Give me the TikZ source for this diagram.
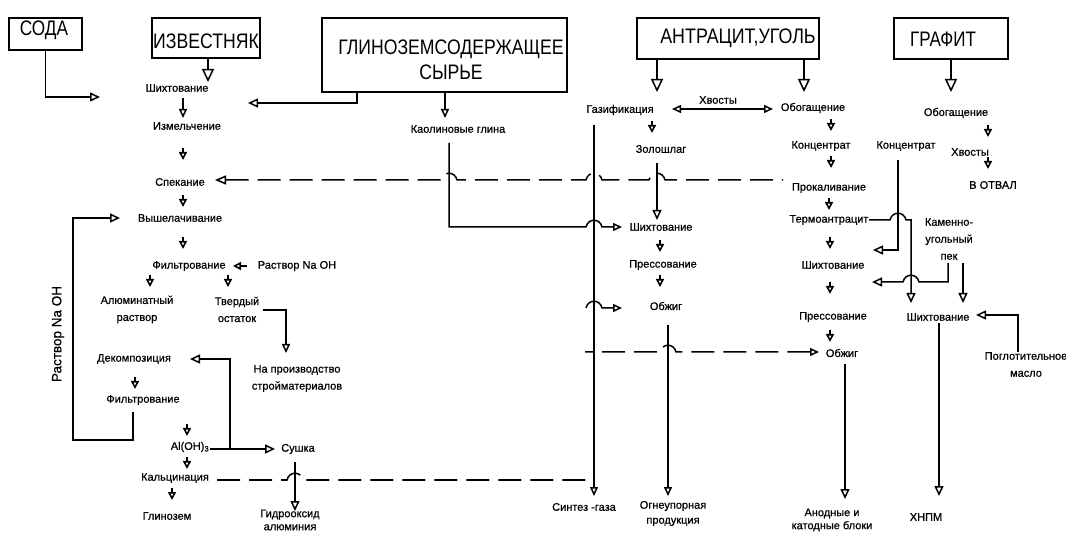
\documentclass[tikz,border=0pt]{standalone}
\usepackage{fontspec}
\setmainfont{Liberation Sans}
\newfontfamily\lblfont{Liberation Sans}[FakeBold=0.6]
\usetikzlibrary{arrows.meta}
\tikzset{
  lbl/.style={font=\lblfont\fontsize{11}{17}\selectfont, inner sep=0pt, align=center},
  ttl/.style={font=\fontsize{21}{25}\selectfont, inner sep=0pt, align=center},
  box/.style={draw, line width=2.4pt, inner sep=0pt},
  ln/.style={line width=1.5pt},
  dl/.style={line width=1.5pt, dash pattern=on 23pt off 9pt},
  barw/.style={-{Triangle[open,width=12pt,length=13pt]}},
  marw/.style={-{Triangle[open,width=9pt,length=10pt]}},
  sarw/.style={-{Triangle[open,width=8pt,length=9pt]}},
  dbarw/.style={{Triangle[open,width=8pt,length=9pt]}-{Triangle[open,width=8pt,length=9pt]}},
  tk/.style={line width=1.6pt,-{Triangle[open,width=8pt,length=8pt]}},
}
\newcommand\dnarrow[2]{\draw[tk] (#1,#2-7) -- (#1,#2+5);}
\begin{document}
\begin{tikzpicture}[x=1pt,y=-1pt]
\useasboundingbox (0,0) rectangle (1066,534);
\clip (0,0) rectangle (1066,534);
\fill[white] (0,0) rectangle (1066,534);

% boxes
\node[box, minimum width=73pt, minimum height=32pt] (sodabox) at (45.5,34) {};
\node[ttl] (soda) at (44,30) {\scalebox{0.82}[1]{СОДА}};
\node[box, minimum width=108pt, minimum height=40pt] (izvbox) at (206,38) {};
\node[ttl] (izv) at (206,41) {\scalebox{0.84}[1]{ИЗВЕСТНЯК}};
\node[box, minimum width=245pt, minimum height=74pt] (glinbox) at (444.5,55) {};
\node[ttl] (glin) at (451,59.5) {\scalebox{0.84}[1]{ГЛИНОЗЕМСОДЕРЖАЩЕЕ}\\\scalebox{0.84}[1]{СЫРЬЕ}};
\node[box, minimum width=182pt, minimum height=41pt] (antrbox) at (728,38.5) {};
\node[ttl] (antr) at (738,38) {\scalebox{0.85}[1]{АНТРАЦИТ,УГОЛЬ}};
\node[box, minimum width=114pt, minimum height=41pt] (grafbox) at (951,38.5) {};
\node[ttl] (graf) at (943,39.5) {\scalebox{0.81}[1]{ГРАФИТ}};

% left column
\node[lbl] (l1) at (177,88) {Шихтование};
\node[lbl] (l2) at (187,126) {Измельчение};
\node[lbl] (l3) at (180,182) {Спекание};
\node[lbl] (l4) at (180,218) {Вышелачивание};
\node[lbl] (l5) at (189,266) {Фильтрование};
\node[lbl] (naoh) at (297,266) {Раствор Na OH};
\node[lbl] (alum) at (137,309.5) {Алюминатный\\раствор};
\node[lbl] (tverd) at (237,309.5) {Твердый\\остаток};
\node[lbl] (stroy) at (297,378.5) {На производство\\стройматериалов};
\node[lbl] (dek) at (134,359) {Декомпозиция};
\node[lbl] (filt2) at (143,400) {Фильтрование};
\node[lbl] (aloh) at (190,447) {Al(OH)\textsubscript{3}};
\node[lbl] (kalc) at (175,478) {Кальцинация};
\node[lbl] (glinozem) at (167,516) {Глинозем};
\node[lbl] (sushka) at (298,449) {Сушка};
\node[lbl, font=\lblfont\fontsize{11}{13}\selectfont] (gidro) at (290,520) {Гидрооксид\\алюминия};
\node[lbl, rotate=90, font=\lblfont\fontsize{13.5}{15}\selectfont] (naoh2) at (58,334) {Раствор Na OH};
\node[lbl] (kaol) at (458,129) {Каолиновые глина};

% middle column
\node[lbl] (gaz) at (620,110) {Газификация};
\node[lbl] (hv1) at (718,100) {Хвосты};
\node[lbl] (obog1) at (813,108) {Обогащение};
\node[lbl] (zolo) at (661,149) {Золошлаг};
\node[lbl] (sh2) at (661,227) {Шихтование};
\node[lbl] (pr2) at (663,265) {Прессование};
\node[lbl] (ob2) at (666,306) {Обжиг};
\node[lbl] (sint) at (584,507) {Синтез -газа};
\node[lbl, font=\lblfont\fontsize{11}{15}\selectfont] (ogn) at (673,513.5) {Огнеупорная\\продукция};

% right antracit column
\node[lbl] (konc1) at (821,146) {Концентрат};
\node[lbl] (prok) at (829,188) {Прокаливание};
\node[lbl] (term) at (829,220) {Термоантрацит};
\node[lbl] (sh3) at (833,265) {Шихтование};
\node[lbl] (pr3) at (833,317) {Прессование};
\node[lbl] (ob3) at (842,353) {Обжиг};
\node[lbl, font=\lblfont\fontsize{11}{13}\selectfont] (anod) at (832,520) {Анодные и\\катодные блоки};

% graphite column
\node[lbl] (obog2) at (956,113) {Обогащение};
\node[lbl] (hv2) at (970,152) {Хвосты};
\node[lbl] (otval) at (993,185) {В ОТВАЛ};
\node[lbl] (konc2) at (906,146) {Концентрат};
\node[lbl] (kam) at (949,239) {Каменно-\\угольный\\пек};
\node[lbl] (sh4) at (938,317) {Шихтование};
\node[lbl] (pogl) at (1026,364.5) {Поглотительное\\масло};
\node[lbl] (hnpm) at (926,517) {ХНПМ};

% connectors from boxes
\draw[ln,marw] (sodabox.south) |- (100,97);
\draw[ln,barw] (208,58) -- (208,82);
\draw[ln,marw] (357,92) |- (248,103);
\draw[ln,sarw] (445,92) -- (445,118);
\draw[ln,barw] (657,59) -- (657,92);
\draw[ln,barw] (804,59) -- (804,92);
\draw[ln,barw] (951,59) -- (951,92);

% kaolin line
\draw[ln,sarw] (449,143) -- (449,227) -- (586,227) .. controls (588,218) and (600,218) .. (602,227) -- (622,227);
% dashed line to Спекание
\draw[dl,{Triangle[open,width=9pt,length=11pt]}-] (215,180) -- (441,180) .. controls (443,171) and (455,171) .. (457,180) -- (586,180) .. controls (588,171) and (600,171) .. (602,180) -- (649,180) .. controls (651,171) and (663,171) .. (665,180) -- (783,180);
% gasification vertical
\draw[ln,sarw] (594,125) -- (594,496);
\draw[ln,marw] (657,163) -- (657,220);
\draw[ln,sarw] (586,308) .. controls (588,299) and (600,299) .. (602,308) -- (622,308);
\draw[dl,{Triangle[open,width=8pt,length=9pt]}-] (819,352) -- (676,352) .. controls (674,343) and (662,343) .. (660,352) -- (585,352);
\draw[ln,sarw] (668,325) -- (668,496);
\draw[ln,dbarw] (672,109) -- (773,109);

% right side
\draw[ln,marw] (869,220) -- (890,220) .. controls (892,211) and (904,211) .. (906,220) -- (911,220) -- (911,303);
\draw[ln,marw] (898,160) |- (873,250);
\draw[ln,marw] (948,263) -- (948,282) -- (919,282) .. controls (917,273) and (905,273) .. (903,282) -- (872,282);
\draw[ln,marw] (963,263) -- (963,303);
\draw[ln,marw] (1018,352) |- (976,315);
\draw[ln,marw] (939,323) -- (939,496);
\draw[ln,marw] (845,364) -- (845,499);

% left side
\draw[ln,sarw] (183,98) -- (183,118);
\draw[ln,sarw] (263,310) -| (286,353);
\draw[ln,marw] (133,412) |- (73,440) |- (120,218);
\draw[ln,marw] (210,449) -- (275,449);
\draw[ln,marw] (230,449) |- (190,359);
\draw[ln,marw] (295,462) -- (295,511);
\draw[dl] (217,480) -- (287,480) .. controls (289,471) and (301,471) .. (303,480) -- (594,480);
\draw[tk] (247,266) -- (233,266);

% small step arrows
\dnarrow{183}{155}
\dnarrow{183}{202}
\dnarrow{183}{244}
\dnarrow{150}{282}
\dnarrow{228}{282}
\dnarrow{135}{384}
\dnarrow{187}{431}
\dnarrow{187}{464}
\dnarrow{172}{495}
\dnarrow{652}{128}
\dnarrow{660}{247}
\dnarrow{660}{282}
\dnarrow{831}{126}
\dnarrow{831}{163}
\dnarrow{829}{205}
\dnarrow{830}{244}
\dnarrow{830}{289}
\dnarrow{830}{337}
\dnarrow{988}{132}
\dnarrow{988}{164}
\end{tikzpicture}
\end{document}
